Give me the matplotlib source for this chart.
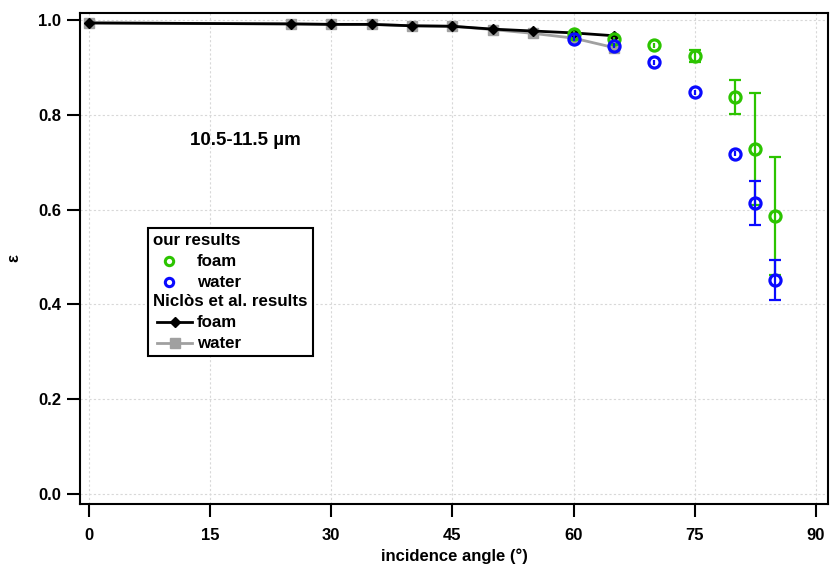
import matplotlib
matplotlib.use("Agg")
import matplotlib.pyplot as plt
from matplotlib.lines import Line2D
from matplotlib.patches import Rectangle

plt.rcParams['font.family'] = ['Liberation Sans', 'DejaVu Sans']
plt.rcParams['font.weight'] = 'bold'

# Niclos et al. results
ang_nic = [0, 25, 30, 35, 40, 45, 50, 55, 60, 65]
foam_nic = [0.994, 0.992, 0.991, 0.991, 0.988, 0.987, 0.981, 0.977, 0.973, 0.967]
water_nic = [0.994, 0.992, 0.991, 0.991, 0.988, 0.987, 0.980, 0.972, 0.962, 0.942]

# our results
ang_our = [60, 65, 70, 75, 80, 82.5, 85]
foam_our = [0.971, 0.960, 0.947, 0.924, 0.838, 0.728, 0.587]
foam_err = [0.005, 0.005, 0.005, 0.013, 0.036, 0.118, 0.125]
water_our = [0.961, 0.946, 0.911, 0.848, 0.718, 0.614, 0.451]
water_err = [0.005, 0.005, 0.005, 0.005, 0.005, 0.047, 0.042]

green = '#2cc400'
blue = '#0a0aff'
grey = '#a0a0a0'

fig = plt.figure(figsize=(8.3, 5.65), dpi=100)
ax = fig.add_axes([80 / 830, 61 / 565, 748 / 830, 491 / 565])

ax.plot(ang_nic, water_nic, color=grey, lw=2, marker='s', ms=7.5, zorder=3)
ax.plot(ang_nic, foam_nic, color='black', lw=2, marker='D', ms=5.5, zorder=4)


def our_series(y, err, col, z):
    ax.errorbar(ang_our, y, yerr=err, fmt='o', color=col, mfc='none', mec=col,
                mew=2.3, ms=8, elinewidth=1.6, capsize=0, zorder=z)
    # caps only where the bar reaches outside the circle
    cx = [a for a, e in zip(ang_our, err) if e > 0.01]
    lo = [v - e for v, e in zip(y, err) if e > 0.01]
    hi = [v + e for v, e in zip(y, err) if e > 0.01]
    ax.plot(cx, lo, ls='none', marker='_', ms=9, mew=1.6, color=col, zorder=z)
    ax.plot(cx, hi, ls='none', marker='_', ms=9, mew=1.6, color=col, zorder=z)


our_series(foam_our, foam_err, green, 5)
our_series(water_our, water_err, blue, 6)

ax.set_xlim(-1.1, 91.5)
ax.set_ylim(-0.021, 1.015)
ax.set_xticks([0, 15, 30, 45, 60, 75, 90])
ax.set_yticks([0.0, 0.2, 0.4, 0.6, 0.8, 1.0])
ax.set_yticklabels(['0.0', '0.2', '0.4', '0.6', '0.8', '1.0'])
ax.grid(True, color='#d8d8d8', linestyle=(0, (2, 2)), linewidth=0.8)
ax.set_axisbelow(True)
ax.tick_params(direction='out', length=9.5, width=1.5, labelsize=12, pad=4)
ax.tick_params(axis='x', pad=8)
for s in ax.spines.values():
    s.set_linewidth(1.5)

ax.set_xlabel('incidence angle (°)', fontsize=12, fontweight='bold', labelpad=4)
ax.set_ylabel('ε', fontsize=12, fontweight='bold', labelpad=12)

ax.text(19.4, 0.746, '10.5-11.5 µm', fontsize=13.5, fontweight='bold',
        ha='center', va='center')

# legend drawn by hand (headers without symbols)
def ax_x(px):
    return (px - 80) / 748


def ax_y(py):
    return (505 - py) / 492


ax.add_patch(Rectangle((ax_x(148), ax_y(357)), ax_x(313) - ax_x(148), ax_y(228) - ax_y(357),
                       transform=ax.transAxes, fill=True, facecolor='white',
                       edgecolor='black', lw=1.5, zorder=7))
rows = [241, 262, 283, 302, 323, 344]
kw = dict(transform=ax.transAxes, fontsize=12.2, fontweight='bold', va='center', zorder=8)
ax.text(ax_x(153), ax_y(rows[0]), 'our results', **kw)
ax.text(ax_x(197), ax_y(rows[1]), 'foam', **kw)
ax.text(ax_x(197), ax_y(rows[2]), 'water', **kw)
ax.text(ax_x(153), ax_y(rows[3]), 'Niclòs et al. results', **kw)
ax.text(ax_x(197), ax_y(rows[4]), 'foam', **kw)
ax.text(ax_x(197), ax_y(rows[5]), 'water', **kw)

ax.add_line(Line2D([ax_x(169)], [ax_y(rows[1])], transform=ax.transAxes, marker='o', ms=6,
                   mfc='none', mec=green, mew=2.2, zorder=8))
ax.add_line(Line2D([ax_x(169)], [ax_y(rows[2])], transform=ax.transAxes, marker='o', ms=6,
                   mfc='none', mec=blue, mew=2.2, zorder=8))
ax.add_line(Line2D([ax_x(157), ax_x(192)], [ax_y(rows[4])] * 2, transform=ax.transAxes,
                   color='black', lw=2, zorder=8))
ax.add_line(Line2D([ax_x(175)], [ax_y(rows[4])], transform=ax.transAxes, marker='D', ms=5.5,
                   color='black', zorder=8))
ax.add_line(Line2D([ax_x(157), ax_x(192)], [ax_y(rows[5])] * 2, transform=ax.transAxes,
                   color=grey, lw=2, zorder=8))
ax.add_line(Line2D([ax_x(175)], [ax_y(rows[5])], transform=ax.transAxes, marker='s', ms=7.5,
                   color=grey, zorder=8))

fig.savefig('out.png', dpi=100)
